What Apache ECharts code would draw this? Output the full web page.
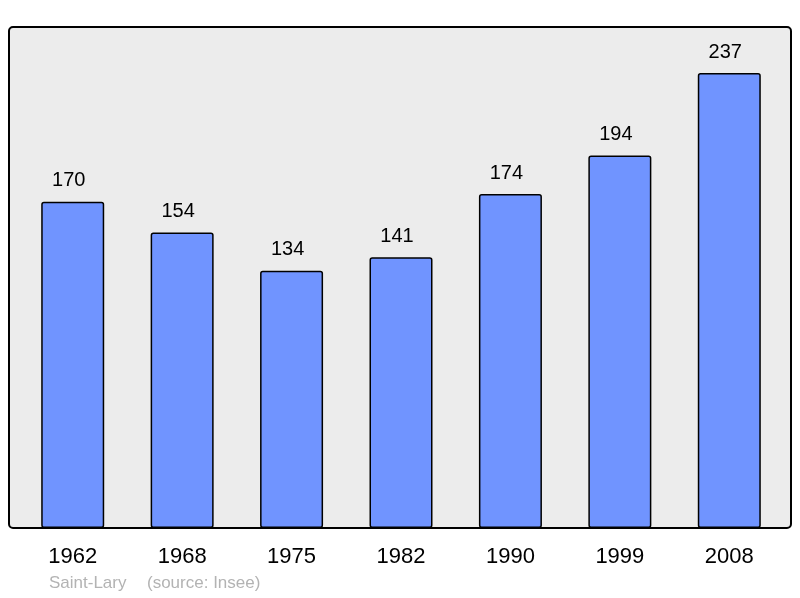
<!DOCTYPE html>
<html>
<head>
<meta charset="utf-8">
<script src="https://cdn.jsdelivr.net/npm/echarts@6/dist/echarts.min.js"></script>
<style>
  html, body { margin: 0; padding: 0; background: #fff; }
  #chart { width: 800px; height: 598px; }
</style>
</head>
<body>
<div id="chart"></div>
<script>
const years = ['1962', '1968', '1975', '1982', '1990', '1999', '2008']
const population = [170, 154, 134, 141, 174, 194, 237]
const town = 'Saint-Lary'
const source = '(source: Insee)'

const chart = echarts.init(document.getElementById('chart'))
chart.setOption({
  animation: false,
  textStyle: { fontFamily: 'Liberation Sans, Arial, sans-serif' },
  grid: { left: 18, right: 16, top: 27, bottom: 70 },
  xAxis: {
    type: 'category',
    data: years,
    axisLine: { show: false },
    axisTick: { show: false },
    axisLabel: { color: '#000', fontSize: 22, margin: 18 }
  },
  yAxis: {
    type: 'value',
    min: 0,
    max: 261,
    show: false
  },
  graphic: [
    {
      type: 'rect',
      z: -10,
      shape: { x: 9, y: 27, width: 782, height: 501, r: 4 },
      style: { fill: '#ececec', stroke: 'none' }
    },
    {
      type: 'rect',
      z: 100,
      shape: { x: 9, y: 27, width: 782, height: 501, r: 4 },
      style: { fill: 'none', stroke: '#000', lineWidth: 2 }
    },
    {
      type: 'text',
      left: 49,
      top: 575,
      style: { text: town, fill: '#b3b3b3', fontSize: 17, fontFamily: 'Liberation Sans, Arial, sans-serif' }
    },
    {
      type: 'text',
      left: 147,
      top: 575,
      style: { text: source, fill: '#b3b3b3', fontSize: 17, fontFamily: 'Liberation Sans, Arial, sans-serif' }
    }
  ],
  series: [{
    type: 'bar',
    data: population,
    barWidth: 63,
    itemStyle: {
      color: '#7094ff',
      borderColor: '#000',
      borderWidth: 1.5,
      borderRadius: 2
    },
    label: {
      show: true,
      position: 'top',
      distance: 11,
      offset: [-4, 0],
      color: '#000',
      fontSize: 20
    }
  }]
})
</script>
</body>
</html>
